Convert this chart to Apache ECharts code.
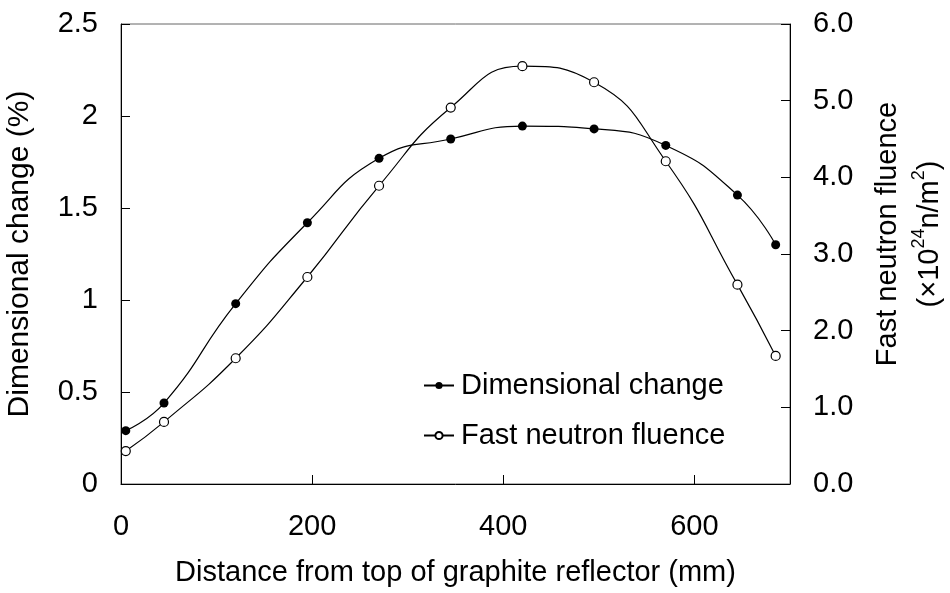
<!DOCTYPE html>
<html>
<head>
<meta charset="utf-8">
<title>Dimensional change and fast neutron fluence</title>
<script src="https://cdn.jsdelivr.net/npm/echarts@6.0.0/dist/echarts.min.js"></script>
</head>
<body style="margin:0">
<div id="main" style="width:950px;height:593px;"></div>
<script>
// distance from top of graphite reflector (mm)
var positions = [5, 45, 120, 195, 270, 345, 420, 495, 570, 645, 685];
// dimensional change (%)
var dimChange = [0.29, 0.44, 0.98, 1.42, 1.77, 1.875, 1.945, 1.93, 1.84, 1.57, 1.30];
// fast neutron fluence (x10^24 n/m^2)
var fluence = [0.43, 0.81, 1.64, 2.70, 3.89, 4.91, 5.45, 5.24, 4.21, 2.60, 1.67];

var font = "'Liberation Sans', Arial, sans-serif";
var fs = 29;

function pairs(xs, ys) {
  var out = [];
  for (var i = 0; i < xs.length; i++) out.push([xs[i], ys[i]]);
  return out;
}

var chart = echarts.init(document.getElementById('main'));

var option = {
  backgroundColor: '#fff',
  textStyle: { fontFamily: font, color: '#000' },
  animation: false,
  grid: {
    left: 121, right: 160, top: 24, bottom: 109,
    outerBoundsMode: 'none',
    containLabel: false,
    show: true, borderColor: '#666', borderWidth: 1
  },
  legend: {
    orient: 'vertical',
    left: 418,
    top: 366,
    itemWidth: 30,
    itemHeight: 9,
    itemGap: 21,
    textStyle: { fontSize: fs, color: '#000', fontFamily: font, padding: [0, 0, 0, 2] },
    data: ['Dimensional change', 'Fast neutron fluence']
  },
  xAxis: {
    type: 'value',
    min: 0, max: 700, interval: 200,
    name: 'Distance from top of graphite reflector (mm)',
    nameLocation: 'middle',
    nameGap: 74,
    nameTextStyle: { fontSize: fs, color: '#000' },
    axisLine: { lineStyle: { color: '#000', width: 1 } },
    axisTick: { inside: true, length: 9, lineStyle: { color: '#000' } },
    axisLabel: {
      fontSize: fs, color: '#000', margin: 28,
      formatter: function (v) { return v % 200 === 0 ? v : ''; }
    },
    splitLine: { show: false }
  },
  yAxis: [
    {
      type: 'value',
      min: 0, max: 2.5, interval: 0.5,
      name: 'Dimensional change (%)',
      nameLocation: 'middle',
      nameGap: 86,
      nameRotate: 90,
      nameTextStyle: { fontSize: 30, color: '#000' },
      axisLine: { show: true, lineStyle: { color: '#000', width: 1 } },
      axisTick: { inside: true, length: 9, lineStyle: { color: '#000' } },
      axisLabel: { fontSize: fs, color: '#000', margin: 23 },
      splitLine: { show: false }
    },
    {
      type: 'value',
      min: 0, max: 6, interval: 1,
      position: 'right',
      name: '{a|Fast neutron fluence}\n{b|(×10}{s|24}{b|n/m}{s|2}{b|)}',
      nameLocation: 'middle',
      nameGap: 76,
      nameRotate: 90,
      nameTextStyle: {
        color: '#000',
        padding: [0, 0, 0, 40],
        rich: {
          a: { fontSize: fs, lineHeight: 44, fontFamily: font, color: '#000' },
          b: { fontSize: fs, lineHeight: 40, fontFamily: font, color: '#000' },
          s: { fontSize: 18, lineHeight: 22, fontFamily: font, color: '#000', verticalAlign: 'top' }
        }
      },
      axisLine: { show: true, lineStyle: { color: '#000', width: 1 } },
      axisTick: { inside: true, length: 9, lineStyle: { color: '#000' } },
      axisLabel: {
        fontSize: fs, color: '#000', margin: 23,
        formatter: function (v) { return v.toFixed(1); }
      },
      splitLine: { show: false }
    }
  ],
  series: [
    {
      name: 'Dimensional change',
      type: 'line',
      yAxisIndex: 0,
      smooth: true,
      symbol: 'circle',
      symbolSize: 9,
      lineStyle: { color: '#000', width: 1.2 },
      itemStyle: { color: '#000' },
      data: pairs(positions, dimChange)
    },
    {
      name: 'Fast neutron fluence',
      type: 'line',
      yAxisIndex: 1,
      smooth: true,
      symbol: 'circle',
      symbolSize: 9,
      lineStyle: { color: '#000', width: 1.2 },
      itemStyle: { color: '#fff', borderColor: '#000', borderWidth: 1.2 },
      data: pairs(positions, fluence)
    }
  ]
};

chart.setOption(option);
</script>
</body>
</html>
